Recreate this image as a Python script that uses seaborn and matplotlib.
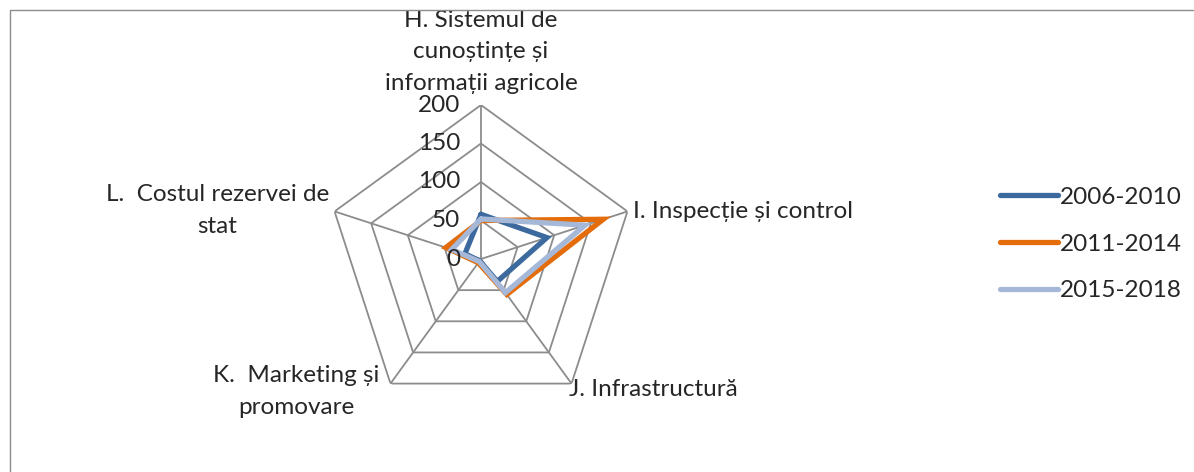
import numpy as np
import pandas as pd
import matplotlib
matplotlib.use("agg")
import matplotlib.pyplot as plt
import seaborn as sns
from matplotlib.lines import Line2D
from matplotlib.patches import Rectangle

# categories (clockwise from top) and values
categories = [
    "H. Sistemul de\ncunoștințe și\ninformații agricole",
    "I. Inspecție și control",
    "J. Infrastructură",
    "K.  Marketing și\npromovare",
    "L.  Costul rezervei de\nstat",
]
series_names = ["2006-2010", "2011-2014", "2015-2018"]
vals_2006_2010 = [58, 90, 36, 3, 22]
vals_2011_2014 = [50, 167, 57, 6, 48]
vals_2015_2018 = [52, 142, 54, 4, 40]
levels = [0, 50, 100, 150, 200]
colors = ["#3D6A9E", "#E46C0A", "#A5B8D8"]
grid_color = "#8C8C8C"

sns.set_style("white")
plt.rcParams["font.family"] = ["Lato", "DejaVu Sans"]

n = len(categories)
theta = np.linspace(0, 2 * np.pi, n, endpoint=False)
theta_closed = np.append(theta, theta[0] + 2 * np.pi)

rows = []
for name, vals in zip(series_names, [vals_2006_2010, vals_2011_2014, vals_2015_2018]):
    closed = list(vals) + [vals[0]]
    for t, v in zip(theta_closed, closed):
        rows.append({"theta": t, "value": v, "series": name})
df = pd.DataFrame(rows)

fig = plt.figure(figsize=(11.94, 4.72), dpi=100)
W, H = 1194, 472
cx, cy, rad = 481, 259, 154
ax = fig.add_axes([(cx - rad) / W, (H - cy - rad) / H, 2 * rad / W, 2 * rad / H],
                  projection="polar")
ax.set_theta_offset(np.pi / 2)
ax.set_theta_direction(-1)
ax.set_ylim(0, 200)
ax.grid(False)
ax.set_xticks([])
ax.set_yticks([])
ax.spines["polar"].set_visible(False)
ax.patch.set_alpha(0)

# pentagon grid and spokes
for lv in levels[1:]:
    ax.plot(theta_closed, [lv] * len(theta_closed), color=grid_color, lw=1.3, zorder=1)
for t in theta:
    ax.plot([t, t], [0, 200], color=grid_color, lw=1.3, zorder=1)

sns.lineplot(data=df, x="theta", y="value", hue="series", palette=colors,
             sort=False, estimator=None, linewidth=3.8, legend=False, ax=ax, zorder=3)
for ln in ax.get_lines()[-3:]:
    ln.set_solid_joinstyle("miter")
ax.set_xlabel("")
ax.set_ylabel("")
ax.set_ylim(0, 200)

fs = 17.5
for lv in levels:
    ax.annotate(str(lv), xy=(0, lv), xytext=(-21, 0), textcoords="offset pixels",
                ha="right", va="center", fontsize=fs)

offsets = [(0, 11, "center", "bottom"), (6, 0, "left", "center"),
           (-3, -6, "left", "center"), (-94, -8, "center", "center"),
           (-117, 1, "center", "center")]
for t, lab, (dx, dy, ha, va) in zip(theta, categories, offsets):
    ax.annotate(lab, xy=(t, 200), xytext=(dx, dy), textcoords="offset pixels",
                ha=ha, va=va, fontsize=fs, linespacing=1.62, annotation_clip=False)

handles = [Line2D([], [], color=c, lw=3.8, solid_capstyle="round") for c in colors]
fig.legend(handles, series_names, loc="center left", bbox_to_anchor=(1000 / W, 1 - 244 / H),
           frameon=False, fontsize=fs, handlelength=2.4, handletextpad=0.08,
           labelspacing=1.05, borderpad=0, borderaxespad=0)

# chart border (top and left visible) and clipping of text above it
fig.add_artist(Rectangle((0, 1 - 10 / H), 1, 10 / H, transform=fig.transFigure,
                         facecolor="white", edgecolor="none", zorder=10))
fig.add_artist(Rectangle((10 / W, -0.1), 1.2, 1.1 - 10 / H, transform=fig.transFigure,
                         facecolor="none", edgecolor=grid_color, lw=1.0, zorder=11))

fig.savefig("out.png", dpi=100)
